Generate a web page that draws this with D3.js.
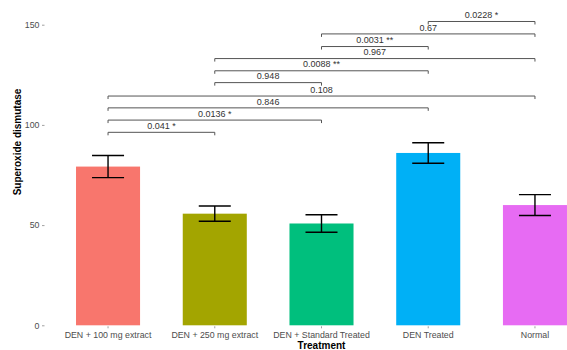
<!DOCTYPE html>
<html>
<head>
<meta charset="utf-8">
<script src="https://cdn.jsdelivr.net/npm/d3@7/dist/d3.min.js"></script>
<style>
  html, body { margin: 0; padding: 0; background: #fff; }
  svg { display: block; font-family: "Liberation Sans", Arial, sans-serif; }
</style>
</head>
<body>
<svg id="chart" width="567" height="350"></svg>
<script>
// Treatment groups and their mean superoxide dismutase activity (± SE)
const categories = ["DEN + 100 mg extract", "DEN + 250 mg extract", "DEN + Standard Treated", "DEN Treated", "Normal"];
const means = [79.2, 55.7, 50.8, 86.0, 60.0];
const errors = [5.5, 3.8, 4.4, 5.1, 5.2];
const colors = ["#F8766D", "#A3A500", "#00BF7D", "#00B0F6", "#E76BF3"];
const yTicks = [0, 50, 100, 150];

// Pairwise comparisons: group indices, p-value label, bracket height
const compFrom = [0, 0, 0, 0, 1, 1, 1, 2, 2, 3];
const compTo = [1, 2, 3, 4, 2, 3, 4, 3, 4, 4];
const compLabels = ["0.041 *", "0.0136 *", "0.846", "0.108", "0.948", "0.0088 **", "0.967", "0.0031 **", "0.67", "0.0228 *"];
const compY = [96.3, 102.4, 108.5, 114.4, 121.1, 127.0, 133.1, 139.1, 145.4, 151.6];

const svg = d3.select("#chart");

const x = d3.scaleBand()
  .domain(categories)
  .range([44, 599])
  .paddingInner(0.4)
  .paddingOuter(0.3);

const y = d3.scaleLinear()
  .domain([0, 150])
  .range([325.3, 24.7]);

const cx = i => x(categories[i]) + x.bandwidth() / 2;

// Bars
svg.append("g").selectAll("rect")
  .data(categories)
  .join("rect")
  .attr("x", d => x(d))
  .attr("width", x.bandwidth())
  .attr("y", (d, i) => y(means[i]))
  .attr("height", (d, i) => y(0) - y(means[i]))
  .attr("fill", (d, i) => colors[i]);

// Error bars
const capHalf = x.bandwidth() / 4;
const eb = svg.append("g").attr("stroke", "#000").attr("stroke-width", 1.4).attr("fill", "none");
categories.forEach((c, i) => {
  const xc = cx(i);
  const top = y(means[i] + errors[i]);
  const bot = y(means[i] - errors[i]);
  eb.append("line").attr("x1", xc).attr("x2", xc).attr("y1", top).attr("y2", bot);
  eb.append("line").attr("x1", xc - capHalf).attr("x2", xc + capHalf).attr("y1", top).attr("y2", top);
  eb.append("line").attr("x1", xc - capHalf).attr("x2", xc + capHalf).attr("y1", bot).attr("y2", bot);
});

// Significance brackets
const tip = 3;
const br = svg.append("g");
compLabels.forEach((lab, k) => {
  const x1 = cx(compFrom[k]);
  const x2 = cx(compTo[k]);
  const yy = y(compY[k]);
  br.append("path")
    .attr("d", `M${x1},${yy + tip}V${yy}H${x2}V${yy + tip}`)
    .attr("fill", "none")
    .attr("stroke", "#555")
    .attr("stroke-width", 1);
  br.append("text")
    .attr("x", (x1 + x2) / 2)
    .attr("y", yy - 3.3)
    .attr("text-anchor", "middle")
    .attr("font-size", 9)
    .attr("fill", "#333")
    .text(lab);
});

// Y axis (ticks and labels only)
const yAxis = svg.append("g")
  .attr("transform", "translate(44.5,0)")
  .call(d3.axisLeft(y).tickValues(yTicks).tickSize(2.5).tickPadding(2.5).tickFormat(d3.format("d")));
yAxis.select(".domain").remove();
yAxis.selectAll(".tick line").attr("stroke", "#a0a0a0");
yAxis.selectAll(".tick text").attr("fill", "#4D4D4D").attr("font-size", 8.8).attr("font-family", "Liberation Sans, Arial, sans-serif");

// X axis (ticks and labels only)
const xAxis = svg.append("g")
  .attr("transform", `translate(0,${y(0) + 1})`)
  .call(d3.axisBottom(x).tickSize(2).tickPadding(3));
xAxis.select(".domain").remove();
xAxis.selectAll(".tick line").attr("stroke", "#a0a0a0");
xAxis.selectAll(".tick text").attr("fill", "#4D4D4D").attr("font-size", 8.8).attr("font-family", "Liberation Sans, Arial, sans-serif");

// Axis titles
svg.append("text")
  .attr("x", 321.5)
  .attr("y", 349)
  .attr("text-anchor", "middle")
  .attr("font-size", 10)
  .attr("font-weight", "bold")
  .attr("fill", "#000")
  .text("Treatment");

svg.append("text")
  .attr("transform", "translate(21,142) rotate(-90)")
  .attr("text-anchor", "middle")
  .attr("font-size", 10)
  .attr("font-weight", "bold")
  .attr("fill", "#000")
  .text("Superoxide dismutase");
</script>
</body>
</html>
